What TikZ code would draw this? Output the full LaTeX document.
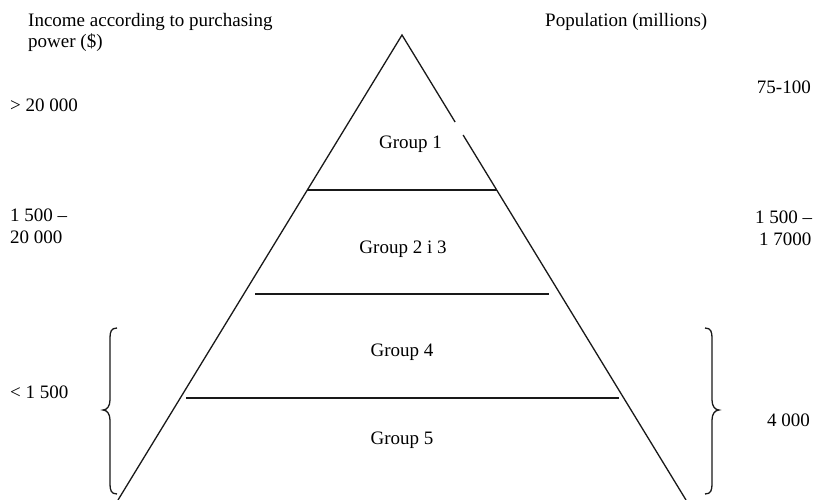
\documentclass[tikz,border=0pt]{standalone}
\usepackage{fontspec}
\setmainfont{Liberation Serif}
\begin{document}
\begin{tikzpicture}[x=1pt,y=-1pt,
  txt/.style={inner sep=0pt,font=\fontsize{19}{22}\selectfont,text=black},
  lbl/.style={txt,anchor=base west},
  rlbl/.style={txt,anchor=base east},
  grp/.style={txt,anchor=base},
  ln/.style={line width=1.3pt,black!90}]
\useasboundingbox (0,0) rectangle (813,500);
\fill[white] (0,0) rectangle (813,500);
% pyramid
\coordinate (apex) at (402,35);
\coordinate (bl) at (118,500);
\coordinate (br) at (686,500);
\coordinate (gapA) at (455.1,122);
\coordinate (gapB) at (463.1,135);
\draw[ln] (bl) -- (apex) -- (gapA);
\draw[ln] (gapB) -- (br);
% levels
\coordinate (l1a) at (307.3,190); \coordinate (l1b) at (496.7,190);
\coordinate (l2a) at (255,294);   \coordinate (l2b) at (549,294);
\coordinate (l3a) at (186,398);   \coordinate (l3b) at (619,398);
\draw[ln] (l1a) -- (l1b);
\draw[ln] (l2a) -- (l2b);
\draw[ln] (l3a) -- (l3b);
% braces
\draw[ln] (117,328) .. controls (111,328) and (110,332) .. (110,338) -- (110,400)
  .. controls (110,406) and (107,410) .. (103,410)
  .. controls (107,410) and (110,414) .. (110,420) -- (110,484)
  .. controls (110,490) and (111,494) .. (117,494);
\draw[ln] (705,328) .. controls (711,328) and (712,332) .. (712,338) -- (712,400)
  .. controls (712,406) and (715,410) .. (719,410)
  .. controls (715,410) and (712,414) .. (712,420) -- (712,484)
  .. controls (712,490) and (711,494) .. (705,494);
% group labels
\node[grp] (g1) at (410.5,148) {Group 1};
\node[grp] (g23) at (403,253) {Group 2 i 3};
\node[grp] (g4) at (402,356) {Group 4};
\node[grp] (g5) at (402,444) {Group 5};
% left column
\node[lbl] (inc1) at (28,27) {Income according to purchasing};
\node[lbl] (inc2) at (28,48) {power (\$)};
\node[lbl] (li1) at (10,111) {> 20 000};
\node[lbl] (li2a) at (10,221) {1 500 –};
\node[lbl] (li2b) at (10,243) {20 000};
\node[lbl] (li3) at (10,398) {< 1 500};
% right column
\node[lbl] (pop) at (545,27) {Population (millions)};
\node[rlbl] (rp1) at (811,94) {75-100};
\node[lbl] (rp2a) at (755,223) {1 500 –};
\node[lbl] (rp2b) at (759,245) {1 7000};
\node[rlbl] (rp3) at (810,426) {4 000};
\end{tikzpicture}
\end{document}
